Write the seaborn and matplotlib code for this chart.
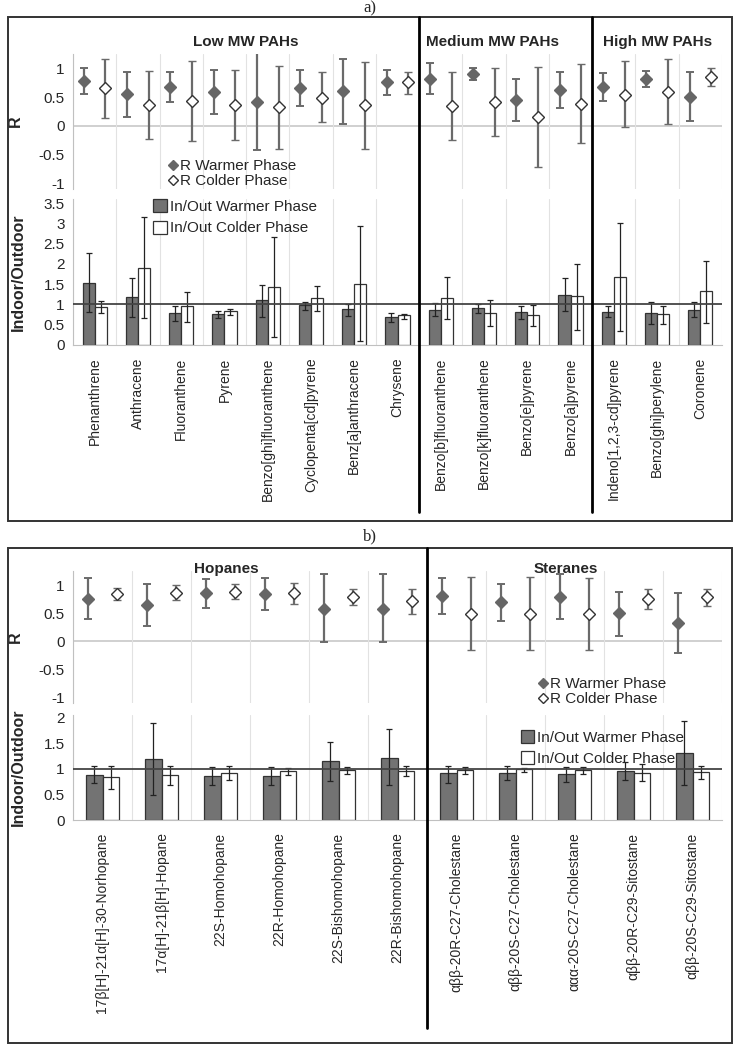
import numpy as np
import pandas as pd
import matplotlib
matplotlib.use('Agg')
import matplotlib.pyplot as plt
import seaborn as sns
from matplotlib.patches import Rectangle
from matplotlib.lines import Line2D
from matplotlib.ticker import FuncFormatter, MultipleLocator, FixedLocator

# ---------------- data: panel a (PAHs) ----------------
pah_names = ['Phenanthrene', 'Anthracene', 'Fluoranthene', 'Pyrene',
             'Benzo[ghi]fluoranthene', 'Cyclopenta[cd]pyrene', 'Benz[a]anthracene',
             'Chrysene', 'Benzo[b]fluoranthene', 'Benzo[k]fluoranthene',
             'Benzo[e]pyrene', 'Benzo[a]pyrene', 'Indeno[1,2,3-cd]pyrene',
             'Benzo[ghi]perylene', 'Coronene']
pah_groups = ['Low MW PAHs', 'Medium MW PAHs', 'High MW PAHs']
pah_group_sizes = [8, 4, 3]

pah_rw = [0.78, 0.55, 0.67, 0.59, 0.42, 0.66, 0.60, 0.76, 0.82, 0.91, 0.45, 0.62, 0.67, 0.82, 0.51]
pah_rw_lo = [0.55, 0.16, 0.41, 0.20, -0.42, 0.35, 0.04, 0.53, 0.55, 0.80, 0.09, 0.31, 0.43, 0.67, 0.09]
pah_rw_hi = [1.00, 0.94, 0.93, 0.97, 1.26, 0.98, 1.17, 0.98, 1.09, 1.01, 0.81, 0.93, 0.92, 0.95, 0.94]
pah_rc = [0.65, 0.36, 0.44, 0.36, 0.32, 0.49, 0.36, 0.76, 0.34, 0.42, 0.15, 0.38, 0.53, 0.59, 0.85]
pah_rc_lo = [0.13, -0.23, -0.27, -0.24, -0.41, 0.07, -0.41, 0.55, -0.24, -0.17, -0.72, -0.30, -0.02, 0.04, 0.69]
pah_rc_hi = [1.16, 0.95, 1.13, 0.97, 1.04, 0.93, 1.11, 0.94, 0.93, 1.01, 1.03, 1.07, 1.12, 1.16, 1.00]

pah_iw = [1.53, 1.18, 0.78, 0.76, 1.10, 0.99, 0.88, 0.68, 0.87, 0.92, 0.81, 1.23, 0.81, 0.80, 0.87]
pah_iw_lo = [0.82, 0.68, 0.60, 0.66, 0.68, 0.87, 0.72, 0.57, 0.71, 0.80, 0.64, 0.83, 0.68, 0.53, 0.70]
pah_iw_hi = [2.26, 1.65, 0.95, 0.84, 1.48, 1.06, 1.02, 0.79, 1.03, 1.00, 0.97, 1.65, 0.97, 1.06, 1.06]
pah_ic = [0.94, 1.90, 0.96, 0.84, 1.43, 1.15, 1.51, 0.73, 1.17, 0.80, 0.73, 1.20, 1.67, 0.76, 1.32]
pah_ic_lo = [0.80, 0.66, 0.57, 0.74, 0.19, 0.85, 0.09, 0.65, 0.65, 0.48, 0.46, 0.38, 0.34, 0.52, 0.55]
pah_ic_hi = [1.09, 3.15, 1.31, 0.89, 2.67, 1.46, 2.93, 0.76, 1.67, 1.10, 0.98, 2.00, 3.00, 0.97, 2.08]

# ---------------- data: panel b (hopanes / steranes) ----------------
hs_names = ['17β[H]-21α[H]-30-Norhopane', '17α[H]-21β[H]-Hopane', '22S-Homohopane',
            '22R-Homohopane', '22S-Bishomohopane', '22R-Bishomohopane',
            'αββ-20R-C27-Cholestane', 'αββ-20S-C27-Cholestane', 'ααα-20S-C27-Cholestane',
            'αββ-20R-C29-Sitostane', 'αββ-20S-C29-Sitostane']
hs_groups = ['Hopanes', 'Steranes']
hs_group_sizes = [6, 5]

hs_rw = [0.76, 0.64, 0.85, 0.84, 0.58, 0.58, 0.80, 0.70, 0.79, 0.51, 0.32]
hs_rw_lo = [0.39, 0.27, 0.59, 0.56, -0.02, -0.02, 0.48, 0.36, 0.40, 0.10, -0.21]
hs_rw_hi = [1.12, 1.02, 1.10, 1.12, 1.20, 1.20, 1.12, 1.02, 1.19, 0.88, 0.85]
hs_rc = [0.84, 0.86, 0.88, 0.85, 0.79, 0.71, 0.49, 0.49, 0.49, 0.76, 0.79]
hs_rc_lo = [0.73, 0.73, 0.75, 0.67, 0.64, 0.48, -0.15, -0.15, -0.15, 0.58, 0.63]
hs_rc_hi = [0.95, 1.00, 1.02, 1.03, 0.93, 0.93, 1.14, 1.14, 1.13, 0.93, 0.93]

hs_iw = [0.88, 1.20, 0.85, 0.85, 1.15, 1.22, 0.91, 0.92, 0.89, 0.96, 1.31]
hs_iw_lo = [0.72, 0.48, 0.68, 0.68, 0.77, 0.68, 0.73, 0.78, 0.74, 0.79, 0.68]
hs_iw_hi = [1.05, 1.90, 1.03, 1.03, 1.52, 1.77, 1.06, 1.05, 1.03, 1.13, 1.94]
hs_ic = [0.83, 0.87, 0.92, 0.95, 0.97, 0.96, 0.97, 0.99, 0.97, 0.92, 0.94]
hs_ic_lo = [0.60, 0.69, 0.78, 0.87, 0.89, 0.86, 0.90, 0.93, 0.90, 0.76, 0.81]
hs_ic_hi = [1.05, 1.05, 1.05, 1.02, 1.04, 1.05, 1.04, 1.02, 1.04, 1.09, 1.05]

W, H = 739, 1050
sns.set_style('white')
plt.rcParams['font.family'] = ['Liberation Sans', 'DejaVu Sans']
plt.rcParams['axes.unicode_minus'] = False

fig = plt.figure(figsize=(W / 100, H / 100), dpi=100)

WARM = '#666666'


def box(x0, y0, x1, y1):
    # pixel box (top-left origin) -> figure fractions
    return [x0 / W, 1 - y1 / H, (x1 - x0) / W, (y1 - y0) / H]


fmt = FuncFormatter(lambda v, p: '%g' % v)


def style_axis(ax, n):
    ax.set_xlim(-0.5, n - 0.5)
    ax.xaxis.set_minor_locator(FixedLocator(np.arange(-0.5, n, 1.0)))
    ax.grid(which='minor', axis='x', color='#e2e2e2', lw=0.8)
    ax.grid(which='major', axis='both', visible=False)
    for s in ['top', 'right']:
        ax.spines[s].set_visible(False)
    ax.spines['left'].set_color('#c0c0c0')
    ax.spines['bottom'].set_color('#c0c0c0')
    ax.yaxis.set_major_formatter(fmt)
    ax.tick_params(axis='y', which='major', length=3, color='#c0c0c0', labelsize=11, pad=3)
    ax.tick_params(axis='x', which='major', length=0)
    ax.tick_params(axis='x', which='minor', length=3, color='#c0c0c0')
    ax.set_facecolor('none')


def draw_panel(ax_r, ax_io, names, rw, rw_lo, rw_hi, rc, rc_lo, rc_hi,
               iw, iw_lo, iw_hi, ic, ic_lo, ic_hi, io_top, r_leg, io_leg):
    n = len(names)
    idx = np.arange(n)

    # ---- R panel ----
    rw, rc = np.array(rw), np.array(rc)
    ax_r.errorbar(idx - 0.25, rw, yerr=[rw - np.array(rw_lo), np.array(rw_hi) - rw],
                  fmt='D', ms=6.5, mfc=WARM, mec=WARM, ecolor='#6a6a6a',
                  elinewidth=1.6, capsize=3, capthick=1.4)
    ax_r.errorbar(idx + 0.25, rc, yerr=[rc - np.array(rc_lo), np.array(rc_hi) - rc],
                  fmt='D', ms=6.5, mfc='white', mec='#333333', mew=1.0, ecolor='#6a6a6a',
                  elinewidth=1.6, capsize=3, capthick=1.4)
    ax_r.axhline(0, color='#c8c8c8', lw=1.2, zorder=0)
    ax_r.set_ylim(-1.1, 1.25)
    ax_r.yaxis.set_major_locator(FixedLocator([-1, -0.5, 0, 0.5, 1]))
    style_axis(ax_r, n)
    ax_r.spines['bottom'].set_visible(False)
    ax_r.set_xticks(idx)
    ax_r.set_xticklabels([])
    ax_r.tick_params(axis='x', which='minor', length=0)
    ax_r.set_ylabel('R', fontsize=11.5, fontweight='bold')
    ax_r.yaxis.set_label_coords(-0.078, 0.5)
    leg_h = [Line2D([], [], ls='none', marker='D', ms=5.5, mfc=WARM, mec=WARM),
             Line2D([], [], ls='none', marker='D', ms=5.5, mfc='white', mec='#333333')]
    ax_r.legend(leg_h, ['R Warmer Phase', 'R Colder Phase'], loc='lower left',
                bbox_to_anchor=r_leg, frameon=False, fontsize=11,
                handletextpad=0.0, labelspacing=0.05, borderpad=0, handlelength=1.0)

    # ---- Indoor/Outdoor panel ----
    df = pd.DataFrame({
        'compound': names * 2,
        'phase': ['In/Out Warmer Phase'] * n + ['In/Out Colder Phase'] * n,
        'ratio': list(iw) + list(ic),
    })
    sns.barplot(data=df, x='compound', y='ratio', hue='phase',
                palette=['#737373', 'white'], width=0.56, errorbar=None,
                edgecolor='#333333', linewidth=0.9, ax=ax_io)
    for cont, vals, lo, hi in [(ax_io.containers[0], iw, iw_lo, iw_hi),
                               (ax_io.containers[1], ic, ic_lo, ic_hi)]:
        xs = [b.get_x() + b.get_width() / 2 for b in cont]
        v = np.array(vals)
        ax_io.errorbar(xs, v, yerr=[v - np.array(lo), np.array(hi) - v], fmt='none',
                       ecolor='#222222', elinewidth=0.9, capsize=2.5, capthick=0.9)
    ax_io.axhline(1, color='#444444', lw=1.3, zorder=3)
    ax_io.set_ylim(0, io_top)
    ax_io.yaxis.set_major_locator(MultipleLocator(0.5))
    style_axis(ax_io, n)
    ax_io.set_xlabel('')
    ax_io.set_ylabel('Indoor/Outdoor', fontsize=11.5, fontweight='bold')
    ax_io.yaxis.set_label_coords(-0.072, 0.5)
    ax_io.set_xticks(idx)
    ax_io.set_xticklabels(names, rotation=90, fontsize=10)
    ax_io.tick_params(axis='x', which='major', pad=9)
    h, l = ax_io.get_legend_handles_labels()
    ax_io.legend(h, l, loc='upper left', bbox_to_anchor=io_leg, frameon=False, fontsize=11,
                 handletextpad=0.2, labelspacing=0.45, borderpad=0,
                 handlelength=0.9, handleheight=0.9)


def dividers(ax, sizes, y_top, y_bot):
    inv = fig.transFigure.inverted()
    pos = np.cumsum(sizes)[:-1] - 0.5
    for p in pos:
        xf = inv.transform(ax.transData.transform((p, 0)))[0]
        fig.add_artist(Line2D([xf, xf], [1 - y_top / H, 1 - y_bot / H],
                              transform=fig.transFigure, color='black', lw=2.0))


def titles(ax, groups, xs, y):
    for g, x in zip(groups, xs):
        ax.text(x, y, g, transform=ax.get_xaxis_transform(), ha='center', va='center',
                fontsize=11, fontweight='bold')


# ---------------- panel a ----------------
ax_ra = fig.add_axes(box(73, 54, 722, 189))
ax_ia = fig.add_axes(box(73, 199, 722, 345))
draw_panel(ax_ra, ax_ia, pah_names, pah_rw, pah_rw_lo, pah_rw_hi, pah_rc, pah_rc_lo, pah_rc_hi,
           pah_iw, pah_iw_lo, pah_iw_hi, pah_ic, pah_ic_lo, pah_ic_hi, 3.6,
           (0.13, -0.05), (0.112, 1.05))
titles(ax_ra, pah_groups, [3.5, 9.2, 13.0], 1.09)

# ---------------- panel b ----------------
ax_rb = fig.add_axes(box(73, 571, 722, 703))
ax_ib = fig.add_axes(box(73, 715, 722, 820))
draw_panel(ax_rb, ax_ib, hs_names, hs_rw, hs_rw_lo, hs_rw_hi, hs_rc, hs_rc_lo, hs_rc_hi,
           hs_iw, hs_iw_lo, hs_iw_hi, hs_ic, hs_ic_lo, hs_ic_hi, 2.05,
           (0.7, -0.08), (0.678, 0.93))
titles(ax_rb, hs_groups, [2.1, 7.85], 1.015)

# frames, dividers and panel letters
for y0, y1 in [(17, 521), (548, 1043)]:
    fig.add_artist(Rectangle((8 / W, 1 - y1 / H), 724 / W, (y1 - y0) / H, transform=fig.transFigure,
                             fill=False, ec='#333333', lw=1.4))
dividers(ax_ia, pah_group_sizes, 17, 512)
dividers(ax_ib, hs_group_sizes, 548, 1028)
fig.text(370 / W, 1 - 8 / H, 'a)', ha='center', va='center', fontsize=12, family='Liberation Serif')
fig.text(370 / W, 1 - 536 / H, 'b)', ha='center', va='center', fontsize=12, family='Liberation Serif')

fig.savefig('out.png', dpi=100)
